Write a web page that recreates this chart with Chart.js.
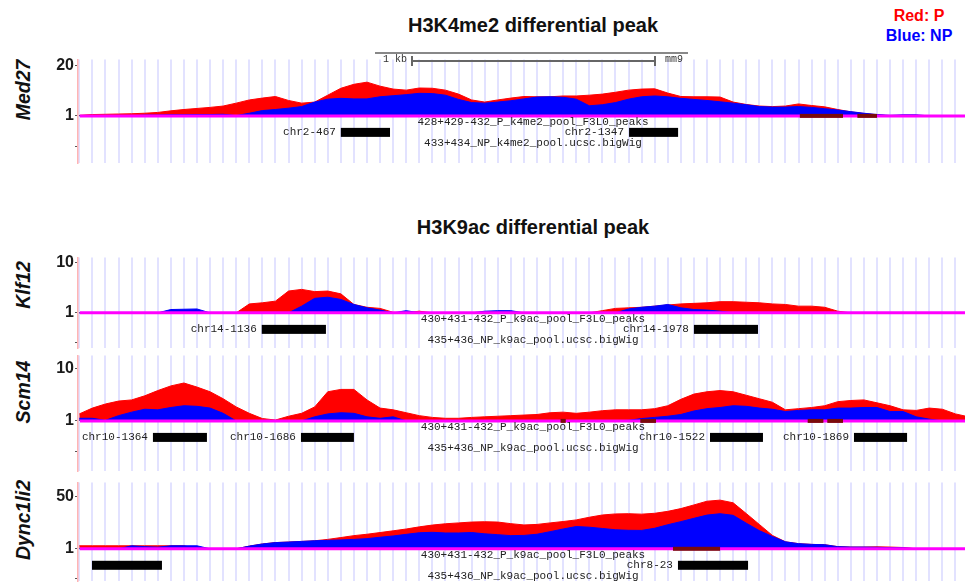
<!DOCTYPE html>
<html>
<head>
<meta charset="utf-8">
<title>H3K4me2 / H3K9ac differential peaks</title>
<script src="https://cdn.jsdelivr.net/npm/chart.js@4.4.1/dist/chart.umd.min.js"></script>
<style>
  body { margin: 0; width: 965px; height: 582px; overflow: hidden; position: relative; background: #fff;
         font-family: "Liberation Sans", Arial, sans-serif; }
  canvas { position: absolute; left: 0; }
  .title { position: absolute; left: 283px; width: 500px; text-align: center; font-size: 20px; line-height: 20px; font-weight: bold; color: #111; }
  .legend { position: absolute; left: 859px; width: 120px; text-align: center; font-size: 16px; line-height: 16px; font-weight: bold; }
  .gene { position: absolute; width: 120px; height: 20px; line-height: 20px; text-align: center; font-size: 19.5px;
          font-weight: bold; font-style: italic; color: #111; transform: translate(-50%, -50%) rotate(-90deg); }
  .ruler { position: absolute; background: #777; }
  .rtxt { position: absolute; font: 10px "Liberation Mono", monospace; color: #333; line-height: 10px; }
</style>
</head>
<body>
<div class="title" style="top:15px">H3K4me2 differential peak</div>
<div class="title" style="top:217px">H3K9ac differential peak</div>
<div class="legend" style="top:8px;color:#ff0000">Red: P</div>
<div class="legend" style="top:28px;color:#0000ff">Blue: NP</div>

<div class="gene" style="left:23px;top:90px">Med27</div>
<div class="gene" style="left:23px;top:285px">Klf12</div>
<div class="gene" style="left:23px;top:392px">Scm14</div>
<div class="gene" style="left:23px;top:520px">Dync1li2</div>

<script>
// position along the window, in grid-line steps (0 = first grid line)
var bins = [-1, 0, 1, 2, 3, 4, 5, 6, 7, 8, 9, 10, 11, 12, 13, 14, 15, 16, 17, 18, 19, 20,
  21, 22, 23, 24, 25, 26, 27, 28, 29, 30, 31, 32, 33, 34, 35, 36, 37, 38, 39, 40, 41, 42,
  43, 44, 45, 46, 47, 48, 49, 50, 51, 52, 53, 54, 55, 56, 57, 58, 59, 60, 61, 62, 63, 64,
  65, 66, 67];

// Med27 - H3K4me2
var med27P = [1.2, 1.5, 1.6, 1.7, 1.8, 2.0, 2.3, 2.9, 3.4, 3.8, 4.2, 4.7, 5.8, 7.0, 7.7, 8.3,
  6.8, 5.8, 6.2, 8.8, 11.4, 12.9, 13.7, 12.2, 11.1, 10.7, 11.5, 11.4, 10.7, 9.2, 7.0, 6.2,
  7.0, 7.7, 8.3, 8.2, 8.2, 8.5, 8.5, 8.8, 9.2, 9.9, 10.7, 11.1, 11.2, 9.6, 8.3, 8.2, 8.2,
  8.1, 6.2, 5.3, 4.7, 4.5, 4.7, 5.5, 4.9, 4.4, 3.4, 2.5, 1.9, 1.4, 1, 1, 1, 1, 1, 1, 1];
var med27NP = [1, 1, 1, 1, 1, 1.3, 1.3, 1.4, 1.4, 1.5, 1.5, 1.6, 1.1, 2.0, 3.0, 3.4, 3.9, 4.5,
  6.2, 7.3, 7.6, 7.4, 7.4, 8.2, 8.6, 9.0, 9.5, 9.4, 8.8, 7.2, 6.0, 5.8, 6.2, 6.7, 7.4, 8.1,
  8.2, 8.0, 7.3, 4.8, 5.2, 6.0, 7.3, 8.2, 8.5, 8.2, 7.6, 7.2, 6.8, 6.3, 5.8, 5.2, 4.5, 4.3,
  4.3, 4.5, 4.2, 3.7, 3.2, 2.6, 2.0, 1.5, 1.2, 1.4, 1.4, 1, 1, 1, 1];

// Klf12 - H3K9ac
var klf12P = [1, 1, 1, 1, 1, 1, 1, 1, 1, 1, 1, 1, 1, 2.6, 2.8, 3.1, 4.9, 5.2, 4.8, 4.9, 4.4,
  2.5, 2.0, 1.8, 1.1, 1, 1.3, 1, 1, 1, 1, 1, 1, 1, 1, 1, 1, 1, 1, 1, 1.4, 1.8, 1.9, 2.0, 2.2,
  2.4, 2.6, 2.7, 2.8, 3.0, 3.0, 2.9, 2.8, 2.6, 2.5, 2.2, 2.2, 2.0, 1.3, 1, 1, 1, 1, 1, 1, 1,
  1, 1, 1];
var klf12NP = [1, 1, 1, 1, 1, 1, 1, 1.6, 1.65, 1.7, 1, 1, 1, 1, 1, 1, 1, 2.2, 3.6, 3.8, 3.4,
  2.5, 1.9, 1.5, 1, 1.4, 1, 1, 1, 1, 1, 1.3, 1.4, 1.4, 1, 1, 1, 1, 1, 1, 1, 1, 1.7, 2.0, 2.2,
  2.5, 1.9, 1.6, 1.5, 1.3, 1, 1, 1, 1, 1, 1, 1, 1, 1, 1, 1, 1, 1, 1, 1, 1, 1, 1, 1];

// Scm14 - H3K9ac
var scm14P = [2.2, 3.2, 3.9, 4.4, 4.6, 5.3, 6.2, 7.0, 7.5, 6.8, 6.0, 4.8, 3.4, 2.3, 1.4, 1.15,
  1.8, 2.3, 3.4, 6.0, 6.4, 6.4, 4.6, 3.2, 2.9, 2.4, 1.9, 1.6, 1.45, 1.45, 1.6, 1.7, 1.8, 1.9,
  2.0, 2.1, 2.4, 2.5, 2.3, 2.5, 2.75, 2.9, 2.9, 2.9, 3.1, 3.6, 4.7, 5.6, 6.0, 6.2, 6.0, 5.4,
  4.8, 4.2, 2.9, 3.1, 3.3, 3.6, 4.3, 4.5, 4.6, 4.1, 3.6, 2.9, 2.8, 3.2, 3.0, 2.2, 1.7];
var scm14NP = [1.45, 1.45, 1.1, 1.9, 2.5, 3.0, 2.9, 3.3, 3.6, 3.5, 3.2, 2.3, 1, 1, 1, 1, 1, 1,
  1.7, 2.2, 2.4, 2.3, 1.7, 1.45, 1.7, 1, 1, 1, 1, 1, 1, 1, 1, 1, 1, 1, 1, 1, 1, 1, 1, 1, 1.1,
  1.4, 1.6, 1.8, 2.1, 2.7, 3.1, 3.3, 3.6, 3.5, 3.2, 3.0, 2.6, 2.8, 2.9, 2.9, 3.2, 3.2, 3.3,
  3.3, 2.6, 2.6, 1.7, 1.3, 1, 1, 1];

// Dync1li2 - H3K9ac
var dync1li2P = [3.8, 3.8, 3.8, 3.8, 3.8, 3.8, 3.8, 3.8, 3.8, 1, 1, 1, 1, 3.5, 5.5, 6.8, 7.3,
  7.9, 8.5, 9.8, 11.5, 13.3, 14.6, 16.2, 17.8, 19.5, 21.5, 23.2, 24.4, 25.2, 26, 26.3, 26,
  24.5, 23.3, 23.8, 25.2, 26.5, 28, 30.5, 32.6, 33.6, 33.8, 33.4, 34.2, 36, 38.6, 42, 45.5,
  46.5, 44, 34, 23.8, 13.5, 7.5, 5.8, 5.1, 4.8, 3.0, 2.6, 2.6, 2.8, 2.6, 2.2, 1, 1, 1, 1, 1];
var dync1li2NP = [1, 1, 1, 1, 3.8, 3.0, 2.5, 3.8, 3.8, 3.8, 1, 1, 1, 3.5, 5.5, 6.8, 7.3, 7.9,
  8.5, 8.9, 9.3, 9.8, 10.5, 11.8, 13, 14.5, 16, 16.4, 15.8, 15.8, 16.2, 15, 14.2, 13.3, 13.5,
  14.6, 17, 19.5, 21.8, 21.2, 20, 18.8, 18.3, 18.2, 20.2, 23.5, 26.4, 29.5, 32.5, 33.8, 32.3,
  25, 18, 12.5, 7.5, 5.8, 5.1, 4.8, 3.0, 2.6, 2.6, 2.4, 2.1, 1.9, 1, 1, 1, 1, 1];

// y tick values and their labels (the lowest one is an unlabelled tick mark)
var med27Ticks = [20, 1, -10.5];
var klf12Ticks = [10, 1, -4.3];
var scm14Ticks = [10, 1, -4.3];
var dync1li2Ticks = [50, 1, -26.7];
var med27TickLabels = ['20', '1', ''];
var klf12TickLabels = ['10', '1', ''];
var scm14TickLabels = ['10', '1', ''];
var dync1li2TickLabels = ['50', '1', ''];

// F3L0 peak calls (start / end in bins)
var med27Peaks = [{name: 'chr2-467', start: 19.0, end: 22.76}, {name: 'chr2-1347', start: 41.04, end: 44.79}];
var klf12Peaks = [{name: 'chr14-1136', start: 12.95, end: 17.86}, {name: 'chr14-1978', start: 46.0, end: 50.9}];
var scm14Peaks = [{name: 'chr10-1364', start: 4.63, end: 8.76}, {name: 'chr10-1686', start: 15.95, end: 20.0},
  {name: 'chr10-1522', start: 47.23, end: 51.28}, {name: 'chr10-1869', start: 58.24, end: 62.3}];
var dync1li2Peaks = [{name: '', start: -0.03, end: 5.32}, {name: 'chr8-23', start: 44.78, end: 50.14}];

// small squished features sitting on the baseline
var med27Marks = [[54.1, 57.4], [58.5, 60.0]];
var klf12Marks = [];
var scm14Marks = [[35.8, 36.2], [41.9, 43.1], [54.7, 55.9], [56.2, 57.4]];
var dync1li2Marks = [[44.4, 48.0]];

var panels = [
  {P: med27P, NP: med27NP, ticks: med27Ticks, labels: med27TickLabels, peaks: med27Peaks, marks: med27Marks,
   trackP: '428+429-432_P_k4me2_pool_F3L0_peaks', trackNP: '433+434_NP_k4me2_pool.ucsc.bigWig',
   top: 59, bottom: 164, yMin: -16.9, yMax: 22.2},
  {P: klf12P, NP: klf12NP, ticks: klf12Ticks, labels: klf12TickLabels, peaks: klf12Peaks, marks: klf12Marks,
   trackP: '430+431-432_P_k9ac_pool_F3L0_peaks', trackNP: '435+436_NP_k9ac_pool.ucsc.bigWig',
   top: 257, bottom: 349, yMin: -5.35, yMax: 10.88},
  {P: scm14P, NP: scm14NP, ticks: scm14Ticks, labels: scm14TickLabels, peaks: scm14Peaks, marks: scm14Marks,
   trackP: '430+431-432_P_k9ac_pool_F3L0_peaks', trackNP: '435+436_NP_k9ac_pool.ucsc.bigWig',
   top: 355, bottom: 472, yMin: -7.66, yMax: 12.2},
  {P: dync1li2P, NP: dync1li2NP, ticks: dync1li2Ticks, labels: dync1li2TickLabels, peaks: dync1li2Peaks, marks: dync1li2Marks,
   trackP: '430+431-432_P_k9ac_pool_F3L0_peaks', trackNP: '435+436_NP_k9ac_pool.ucsc.bigWig',
   top: 482, bottom: 582, yMin: -29.5, yMax: 62.9}
];

function points(vals) {
  return vals.map(function (v, i) { return {x: bins[i], y: v}; });
}

// baseline, peak bars and track names, drawn with the chart's own scales
function decor(p) {
  return {
    id: 'decor',
    afterDatasetsDraw: function (chart) {
      var ctx = chart.ctx, a = chart.chartArea, x = chart.scales.x, y = chart.scales.y;
      var base = y.getPixelForValue(1);
      ctx.save();
      ctx.strokeStyle = '#ff00ff';
      ctx.lineWidth = 3;
      ctx.beginPath();
      ctx.moveTo(a.left + 2, base);
      ctx.lineTo(a.right, base);
      ctx.stroke();

      ctx.fillStyle = '#7a0a0a';
      p.marks.forEach(function (m) {
        var x0 = x.getPixelForValue(m[0]), x1 = x.getPixelForValue(m[1]);
        ctx.fillRect(x0, base - 2, x1 - x0, 4);
      });

      ctx.font = '11px "Liberation Mono", monospace';
      ctx.textBaseline = 'middle';
      ctx.textAlign = 'center';
      ctx.fillStyle = '#222';
      var cx = (a.left + a.right) / 2 + 11.5;
      ctx.fillText(p.trackP, cx, base + 6);
      ctx.fillText(p.trackNP, cx, base + 27);

      ctx.textAlign = 'right';
      p.peaks.forEach(function (pk) {
        var x0 = x.getPixelForValue(pk.start), x1 = x.getPixelForValue(pk.end);
        ctx.fillStyle = '#000';
        ctx.fillRect(x0, base + 12, x1 - x0, 9);
        if (pk.name) {
          ctx.fillStyle = '#222';
          ctx.fillText(pk.name, x0 - 5, base + 16.5);
        }
      });
      ctx.restore();
    }
  };
}

panels.forEach(function (p) {
  var pad = 10;
  var cv = document.createElement('canvas');
  cv.width = 965;
  cv.height = p.bottom - p.top + pad * 2;
  cv.style.top = (p.top - pad) + 'px';
  document.body.appendChild(cv);

  new Chart(cv.getContext('2d'), {
    type: 'line',
    data: {
      datasets: [
        {label: 'NP', data: points(p.NP), backgroundColor: '#0000ff', borderColor: '#0000ff',
         borderWidth: 1, fill: {value: 1}},
        {label: 'P', data: points(p.P), backgroundColor: '#ff0000', borderColor: '#ff0000',
         borderWidth: 1, fill: {value: 1}}
      ]
    },
    options: {
      responsive: false,
      animation: false,
      devicePixelRatio: 1,
      layout: {padding: {top: pad, bottom: pad, left: 0, right: 0}},
      elements: {point: {radius: 0}, line: {tension: 0}},
      plugins: {legend: {display: false}, tooltip: {enabled: false}},
      scales: {
        x: {
          type: 'linear', min: -1.1, max: 66.73,
          ticks: {display: false, stepSize: 1, includeBounds: false},
          grid: {color: 'rgb(226,226,255)', lineWidth: 2, drawTicks: false},
          border: {display: false}
        },
        y: {
          min: p.yMin, max: p.yMax,
          afterFit: function (s) { s.width = 78; },
          afterBuildTicks: function (s) { s.ticks = p.ticks.map(function (v) { return {value: v}; }); },
          ticks: {
            padding: 1,
            color: '#1a1a1a',
            font: {family: '"Liberation Sans", Arial, sans-serif', size: 16, weight: 'bold'},
            callback: function (v) { return p.labels[p.ticks.indexOf(v)]; }
          },
          grid: {drawOnChartArea: false, drawTicks: true, tickLength: 3, color: '#555'},
          border: {display: true, color: '#ffb4b4', width: 1.5}
        }
      }
    },
    plugins: [decor(p)]
  });
});
</script>

<!-- scale bar -->
<div class="ruler" style="left:375px;top:52px;width:313px;height:2px;background:#888"></div>
<div class="ruler" style="left:412px;top:59.5px;width:243px;height:2px;background:#666"></div>
<div class="ruler" style="left:411px;top:55.5px;width:1.5px;height:10px;background:#666"></div>
<div class="ruler" style="left:654px;top:55.5px;width:1.5px;height:10px;background:#666"></div>
<div class="rtxt" style="left:383px;top:55px">1 kb</div>
<div class="rtxt" style="left:665px;top:55px">mm9</div>
</body>
</html>
